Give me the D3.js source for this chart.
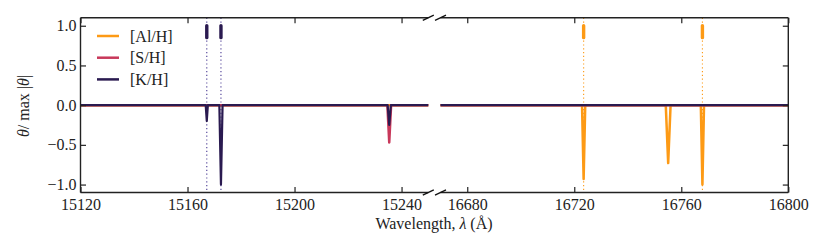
<!DOCTYPE html>
<html>
<head>
<meta charset="utf-8">
<script src="https://cdn.jsdelivr.net/npm/d3@7"></script>
<style>
  body { margin: 0; background: #fff; }
  text { font-family: "Liberation Serif", "DejaVu Serif", serif; fill: #222; }
</style>
</head>
<body>
<svg id="chart" width="830" height="240"></svg>
<script>
// wavelength (A) , normalised theta
const alH = [[15120, 0], [15250, 0],
  [16670, 0], [16722.9, 0], [16723.5, -0.93], [16724.1, 0],
  [16754.2, 0], [16755.1, -0.73], [16756.0, 0],
  [16767.3, 0], [16767.9, -1.0], [16768.5, 0], [16800, 0]];
const sH = [[15120, 0], [15234.7, 0], [15235.4, -0.47], [15236.1, 0], [15250, 0],
  [16670, 0], [16800, 0]];
const kH = [[15120, 0], [15166.8, 0], [15167.2, -0.2], [15167.6, 0],
  [15171.9, 0], [15172.5, -1.0], [15173.1, 0],
  [15234.8, 0], [15235.4, -0.25], [15236.0, 0], [15250, 0],
  [16670, 0], [16800, 0]];

// line positions marked at the top of the plot
const kMarks = [15167.2, 15172.5];
const alMarks = [16723.5, 16767.9];

const seriesNames = ["[Al/H]", "[S/H]", "[K/H]"];
const leftTicks = [15120, 15160, 15200, 15240];
const rightTicks = [16680, 16720, 16760, 16800];
const yTicks = [-1.0, -0.5, 0.0, 0.5, 1.0];

const colors = {"[Al/H]": "#fd9a15", "[S/H]": "#c8385a", "[K/H]": "#2a1a50"};
const seriesData = {"[Al/H]": alH, "[S/H]": sH, "[K/H]": kH};
const marksBySeries = {"[Al/H]": alMarks, "[K/H]": kMarks};

const svg = d3.select("#chart");
const yTop = 17.8, yBottom = 192.5, fontSize = 16, axisColor = "#222";
const serif = "'Liberation Serif', 'DejaVu Serif', serif";

const y = d3.scaleLinear().domain([-1.1, 1.1]).range([yBottom, yTop]);
const panels = [
  {x: d3.scaleLinear().domain([15120, 15250]).range([80.5, 428.3]), ticks: leftTicks, side: "left"},
  {x: d3.scaleLinear().domain([16670, 16800]).range([440.5, 788.3]), ticks: rightTicks, side: "right"}
];

panels.forEach(function(p) {
  const x = p.x, d0 = x.domain(), r = x.range();
  const g = svg.append("g");

  // dotted guides + top markers
  Object.keys(marksBySeries).forEach(function(name) {
    marksBySeries[name].filter(function(l) { return l >= d0[0] && l <= d0[1]; })
      .forEach(function(l) {
        g.append("line")
          .attr("x1", x(l)).attr("x2", x(l))
          .attr("y1", yTop).attr("y2", yBottom)
          .attr("stroke", name === "[K/H]" ? "#4b3c94" : colors[name])
          .attr("stroke-width", 1.1)
          .attr("stroke-dasharray", "1.2,2.6");
        g.append("line")
          .attr("x1", x(l)).attr("x2", x(l))
          .attr("y1", y(1.0)).attr("y2", y(0.85))
          .attr("stroke", colors[name])
          .attr("stroke-width", 3.4)
          .attr("stroke-linecap", "round");
      });
  });

  const line = d3.line()
    .x(function(d) { return x(d[0]); })
    .y(function(d) { return y(d[1]); });

  seriesNames.forEach(function(name) {
    const pts = seriesData[name].filter(function(d) { return d[0] >= d0[0] && d[0] <= d0[1]; });
    g.append("path")
      .datum(pts)
      .attr("fill", "none")
      .attr("stroke", colors[name])
      .attr("stroke-width", name === "[K/H]" ? 2.2 : 2.5)
      .attr("stroke-linejoin", "round")
      .attr("d", line);
  });

  // bottom axis with labels, top axis ticks only
  const xb = g.append("g").attr("transform", "translate(0," + yBottom + ")")
    .call(d3.axisBottom(x).tickValues(p.ticks).tickFormat(d3.format("d"))
      .tickSizeInner(-5.5).tickSizeOuter(0).tickPadding(6));
  const xt = g.append("g").attr("transform", "translate(0," + yTop + ")")
    .call(d3.axisTop(x).tickValues(p.ticks).tickFormat("")
      .tickSizeInner(-5.5).tickSizeOuter(0));

  let ya;
  if (p.side === "left") {
    ya = g.append("g").attr("transform", "translate(" + r[0] + ",0)")
      .call(d3.axisLeft(y).tickValues(yTicks).tickFormat(d3.format(".1f"))
        .tickSizeInner(-5.5).tickSizeOuter(0).tickPadding(4));
  } else {
    ya = g.append("g").attr("transform", "translate(" + r[1] + ",0)")
      .call(d3.axisRight(y).tickValues(yTicks).tickFormat("")
        .tickSizeInner(-5.5).tickSizeOuter(0));
  }

  [xb, xt, ya].forEach(function(a) {
    a.attr("font-family", serif);
    a.select(".domain").remove();
    a.selectAll(".tick line").attr("stroke", axisColor).attr("stroke-width", 1.2);
    a.selectAll(".tick text").attr("font-size", fontSize)
      .attr("font-family", serif).attr("fill", "#222");
  });

  // spines
  g.append("line").attr("x1", r[0]).attr("x2", r[1]).attr("y1", yTop).attr("y2", yTop)
    .attr("stroke", axisColor).attr("stroke-width", 1.4);
  g.append("line").attr("x1", r[0]).attr("x2", r[1]).attr("y1", yBottom).attr("y2", yBottom)
    .attr("stroke", axisColor).attr("stroke-width", 1.4);
  const sx = p.side === "left" ? r[0] : r[1];
  g.append("line").attr("x1", sx).attr("x2", sx).attr("y1", yTop).attr("y2", yBottom)
    .attr("stroke", axisColor).attr("stroke-width", 1.4);

  // break marks on the inner edge
  const bx = p.side === "left" ? r[1] : r[0];
  [yTop, yBottom].forEach(function(yy) {
    g.append("line")
      .attr("x1", bx - 5.5).attr("y1", yy + 2.6)
      .attr("x2", bx + 5.5).attr("y2", yy - 2.6)
      .attr("stroke", "#111").attr("stroke-width", 1.3);
  });
});

// legend
const legend = svg.selectAll(".legend")
  .data(seriesNames)
  .enter().append("g")
  .attr("class", "legend")
  .attr("transform", function(d, i) { return "translate(97," + (36 + i * 21.7) + ")"; });
legend.append("line")
  .attr("x1", 0).attr("x2", 22)
  .attr("stroke", function(d) { return colors[d]; })
  .attr("stroke-width", 2.5);
legend.append("text")
  .attr("x", 33).attr("dy", "0.35em")
  .attr("font-size", fontSize)
  .attr("font-family", serif)
  .text(function(d) { return d; });

// axis labels
const yl = svg.append("text")
  .attr("transform", "translate(29,106) rotate(-90)")
  .attr("text-anchor", "middle")
  .attr("font-family", serif)
  .attr("font-size", fontSize);
yl.append("tspan").attr("font-style", "italic").text("θ");
yl.append("tspan").text("/ max |");
yl.append("tspan").attr("font-style", "italic").text("θ");
yl.append("tspan").text("|");

const xl = svg.append("text")
  .attr("x", 434).attr("y", 228.5)
  .attr("text-anchor", "middle")
  .attr("font-family", serif)
  .attr("font-size", fontSize);
xl.append("tspan").text("Wavelength, ");
xl.append("tspan").attr("font-style", "italic").text("λ");
xl.append("tspan").text(" (Å)");
</script>
</body>
</html>
